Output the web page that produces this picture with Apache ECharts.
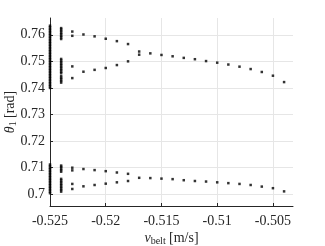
<!DOCTYPE html>
<html>
<head>
<meta charset="utf-8">
<script src="https://cdn.jsdelivr.net/npm/echarts@6/dist/echarts.min.js"></script>
<style>
html,body{margin:0;padding:0;background:#fff;}
#c{width:325px;height:246px;}
</style>
</head>
<body>
<div id="c"></div>
<script>
// ---- data ----
const xTicks = [-0.525, -0.52, -0.515, -0.51, -0.505];
const yTicks = [0.70, 0.71, 0.72, 0.73, 0.74, 0.75, 0.76];

// dense columns at the two lowest belt speeds
const v525 = -0.525;
const theta525 = [
  0.7400, 0.7406, 0.7412, 0.7418, 0.7424, 0.7430, 0.7436, 0.7442, 0.7448, 0.7454,
  0.7460, 0.7466, 0.7472, 0.7478, 0.7484, 0.7490, 0.7496, 0.7502, 0.7508, 0.7514,
  0.7520, 0.7526, 0.7532, 0.7538, 0.7544, 0.7550, 0.7556, 0.7562, 0.7568, 0.7574,
  0.7580, 0.7586, 0.7592, 0.7598, 0.7604, 0.7610, 0.7616, 0.7622, 0.7628, 0.7634,
  0.7004, 0.7010, 0.7016, 0.7022, 0.7028, 0.7034, 0.7040, 0.7046, 0.7052, 0.7058,
  0.7064, 0.7070, 0.7076, 0.7082, 0.7088, 0.7094, 0.7100, 0.7106, 0.7112
];
const v524 = -0.524;
const theta524 = [
  0.7584, 0.7590, 0.7596, 0.7602, 0.7608, 0.7614, 0.7620, 0.7625,
  0.7420, 0.7426, 0.7432, 0.7438, 0.7444, 0.7455, 0.7461, 0.7467, 0.7473, 0.7479,
  0.7485, 0.7491, 0.7497, 0.7503, 0.7509,
  0.7085, 0.7091, 0.7097, 0.7103, 0.7108,
  0.7010, 0.7016, 0.7022, 0.7028, 0.7034, 0.7040, 0.7046, 0.7052, 0.7058
];

// sweep of belt speeds
const vSweep = [-0.523, -0.522, -0.521, -0.520, -0.519, -0.518, -0.517, -0.516, -0.515, -0.514,
                -0.513, -0.512, -0.511, -0.510, -0.509, -0.508, -0.507, -0.506, -0.505, -0.504];
const upperHi = [0.7612, 0.7601, 0.7594, 0.7585, 0.7576, 0.7565, 0.7537, 0.7530, 0.7524, 0.7519,
                 0.7513, 0.7508, 0.7501, 0.7495, 0.7488, 0.7480, 0.7471, 0.7460, 0.7446, 0.7422];
const upperLo = [0.7481, 0.7461, 0.7468, 0.7475, 0.7486, 0.7500, 0.7525, null, null, null,
                 null, null, null, null, null, null, null, null, null, null];
const lowerHi = [0.7100, 0.7095, 0.7091, 0.7087, 0.7082, 0.7077, 0.7062, 0.7061, 0.7059, 0.7057,
                 0.7053, 0.7050, 0.7048, 0.7045, 0.7042, 0.7039, 0.7035, 0.7029, 0.7023, 0.7011];
const lowerLo = [0.7039, 0.7030, 0.7035, 0.7040, 0.7045, 0.7050, null, null, null, null,
                 null, null, null, null, null, null, null, null, null, null];
const extraV = [-0.523, -0.523, -0.523, -0.523];
const extraTheta = [0.7596, 0.7437, 0.7090, 0.7020];

// ---- build points ----
const pts = [];
theta525.forEach(t => pts.push([v525, t]));
theta524.forEach(t => pts.push([v524, t]));
[upperHi, upperLo, lowerHi, lowerLo].forEach(arr => {
  arr.forEach((t, i) => { if (t !== null) pts.push([vSweep[i], t]); });
});
extraV.forEach((v, i) => pts.push([v, extraTheta[i]]));

const font = 'Liberation Serif';
const txt = '#262626';

const chart = echarts.init(document.getElementById('c'));
chart.setOption({
  animation: false,
  backgroundColor: '#fff',
  grid: { left: 50, right: 32, top: 18, bottom: 40, containLabel: false, outerBoundsMode: 'none' },
  xAxis: {
    type: 'value',
    min: -0.525, max: -0.5032,
    name: '{i|v}{s|belt} {n|[m/s]}',
    nameLocation: 'middle',
    nameGap: 24,
    nameMoveOverlap: false,
    nameTextStyle: {
      rich: {
        i: { fontFamily: font, fontStyle: 'italic', fontSize: 14, color: txt },
        s: { fontFamily: font, fontSize: 10, color: txt, verticalAlign: 'bottom', padding: [6, 0, 0, 0] },
        n: { fontFamily: font, fontSize: 14, color: txt }
      }
    },
    axisLine: { show: true, onZero: false, lineStyle: { color: '#262626', width: 1 } },
    axisTick: { show: true, inside: true, length: 3, customValues: xTicks, lineStyle: { color: '#262626' } },
    axisLabel: {
      customValues: xTicks, margin: 8,
      fontFamily: font, fontSize: 14, color: txt,
      formatter: v => {
        const s = (+v).toFixed(3);
        return s.replace(/0$/, '');
      }
    },
    splitLine: { show: true, lineStyle: { color: '#e6e6e6', width: 1 } }
  },
  yAxis: {
    type: 'value',
    min: 0.6956, max: 0.7663,
    name: '{i|θ}{s|1} {n|[rad]}',
    nameLocation: 'middle',
    nameRotate: 90,
    nameGap: 32,
    nameMoveOverlap: false,
    nameTextStyle: {
      rich: {
        i: { fontFamily: font, fontStyle: 'italic', fontSize: 14, color: txt },
        s: { fontFamily: font, fontSize: 10, color: txt, verticalAlign: 'bottom', padding: [6, 0, 0, 0] },
        n: { fontFamily: font, fontSize: 14, color: txt }
      }
    },
    axisLine: { show: true, onZero: false, lineStyle: { color: '#262626', width: 1 } },
    axisTick: { show: true, inside: true, length: 3, customValues: yTicks, lineStyle: { color: '#262626' } },
    axisLabel: {
      customValues: yTicks, margin: 5,
      fontFamily: font, fontSize: 14, color: txt,
      formatter: v => {
        let s = (+v).toFixed(2);
        if (s.endsWith('0')) s = s.slice(0, -1);
        return s;
      }
    },
    splitLine: { show: true, lineStyle: { color: '#e6e6e6', width: 1 } }
  },
  series: [{
    type: 'scatter',
    data: pts,
    symbol: 'rect',
    symbolSize: 2.5,
    itemStyle: { color: '#000' },
    clip: false,
    silent: true
  }]
});
</script>
</body>
</html>
